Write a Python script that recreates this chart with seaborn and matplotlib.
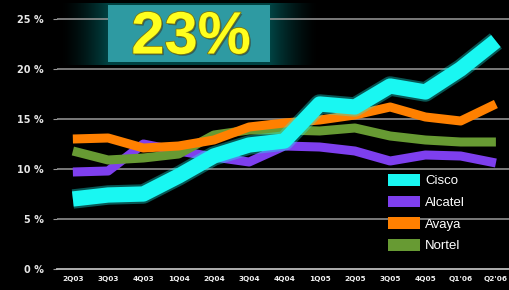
import numpy as np
import pandas as pd
import matplotlib
matplotlib.use("Agg")
import matplotlib.pyplot as plt
import matplotlib.patheffects as pe
from matplotlib.patches import Patch, Rectangle
import seaborn as sns

# market share by quarter (%)
quarters = ["2Q03", "3Q03", "4Q03", "1Q04", "2Q04", "3Q04", "4Q04",
            "1Q05", "2Q05", "3Q05", "4Q05", "Q1'06", "Q2'06"]
cisco = [7.0, 7.4, 7.5, 9.3, 11.3, 12.4, 12.8, 16.5, 16.2, 18.3, 17.7, 20.0, 22.8]
alcatel = [9.7, 9.8, 12.5, 11.8, 11.2, 10.7, 12.3, 12.2, 11.8, 10.8, 11.4, 11.3, 10.6]
avaya = [13.0, 13.1, 12.1, 12.3, 12.9, 14.2, 14.6, 14.9, 15.4, 16.2, 15.2, 14.8, 16.5]
nortel = [11.8, 10.9, 11.1, 11.5, 13.4, 13.9, 13.9, 13.8, 14.1, 13.3, 12.9, 12.7, 12.7]
headline = "23%"

brands = ["Cisco", "Alcatel", "Avaya", "Nortel"]
colors = {"Cisco": "#19F7F2", "Alcatel": "#7E3FEE", "Avaya": "#FF8000", "Nortel": "#679A33"}

df = pd.DataFrame({"q": range(len(quarters)), "Cisco": cisco, "Alcatel": alcatel,
                   "Avaya": avaya, "Nortel": nortel})

sns.set_style("ticks")
plt.rcParams["font.family"] = ["DejaVu Sans"]

W, H = 510, 290
fig = plt.figure(figsize=(W / 100, H / 100), dpi=100, facecolor="black")

# glow band behind the headline box
gax = fig.add_axes([0, 0, 1, 1], zorder=0)
gax.axis("off")
xx = np.arange(W)
yy = np.arange(H)
d = np.maximum(np.maximum(108 - xx, xx - 270), 0)
fx = np.clip(1 - d / 48.0, 0, 1) ** 1.5
fy = ((yy >= 3) & (yy <= 64)).astype(float)
inten = np.outer(fy, fx)
img = np.zeros((H, W, 3))
img[..., 1] = 0.26 * inten
img[..., 2] = 0.26 * inten
gax.imshow(img, extent=(0, W, H, 0), aspect="auto")
gax.set_xlim(0, W)
gax.set_ylim(H, 0)

ax = fig.add_axes([57 / W, 21 / H, (W - 57) / W, 254 / H], zorder=1)
ax.set_facecolor("none")

for v in [5, 10, 15, 20, 25]:
    ax.axhline(v, color="#9A9A9A", lw=1.1, zorder=1)

draw_order = ["Alcatel", "Nortel", "Avaya", "Cisco"]
for b in draw_order:
    if b == "Cisco":
        sns.lineplot(data=df, x="q", y=b, ax=ax, color=colors[b], lw=14, alpha=0.35,
                     zorder=4, solid_capstyle="butt", solid_joinstyle="round")
        sns.lineplot(data=df, x="q", y=b, ax=ax, color=colors[b], lw=11,
                     zorder=5, solid_capstyle="butt", solid_joinstyle="round")
    else:
        sns.lineplot(data=df, x="q", y=b, ax=ax, color=colors[b], lw=6.5,
                     zorder=3, solid_capstyle="butt", solid_joinstyle="round")

ax.set_xlim(-0.45, 12.4)
ax.set_ylim(0, 25.4)
ax.set_xlabel("")
ax.set_ylabel("")
ax.set_xticks(range(len(quarters)))
ax.set_xticklabels(quarters)
ax.set_yticks([0, 5, 10, 15, 20, 25])
ax.set_yticklabels([f"{v} %" for v in [0, 5, 10, 15, 20, 25]])
for s in ["top", "right", "left"]:
    ax.spines[s].set_visible(False)
ax.spines["bottom"].set_color("#BDBDBD")
ax.spines["bottom"].set_linewidth(1.3)
ax.tick_params(axis="y", colors="#9A9A9A", length=3, pad=6.5, labelcolor="#E6E6E6",
               labelsize=7)
ax.tick_params(axis="x", length=0, pad=5, labelcolor="#F0F0F0", labelsize=5.3)
for t in ax.get_yticklabels() + ax.get_xticklabels():
    t.set_fontweight("bold")

# headline box
ov = fig.add_axes([0, 0, 1, 1], zorder=3)
ov.axis("off")
ov.set_xlim(0, W)
ov.set_ylim(H, 0)
ov.add_patch(Rectangle((108, 5), 162, 57, facecolor="#2E9AA2", edgecolor="none"))
ov.text(191, 38, headline, ha="center", va="center", color="#FFFF1E",
        fontsize=43, fontweight="bold", family=["Liberation Sans", "DejaVu Sans"],
        path_effects=[pe.withSimplePatchShadow(offset=(1.2, -1.2), shadow_rgbFace="#35504A", alpha=0.8),
                      pe.withStroke(linewidth=1.2, foreground="#7A7A10")])

handles = [Patch(facecolor=colors[b], edgecolor="none", label=b) for b in brands]
leg = fig.legend(handles=handles, loc="upper left", bbox_to_anchor=(388 / W, 1 - 174 / H),
                 frameon=False, borderpad=0, borderaxespad=0,
                 handlelength=2.4, handleheight=1.0, handletextpad=0.4, labelspacing=0.62,
                 prop={"family": ["Liberation Sans", "DejaVu Sans"], "size": 9.5})
for t in leg.get_texts():
    t.set_color("white")

fig.savefig("out.png", dpi=100, facecolor="black")
